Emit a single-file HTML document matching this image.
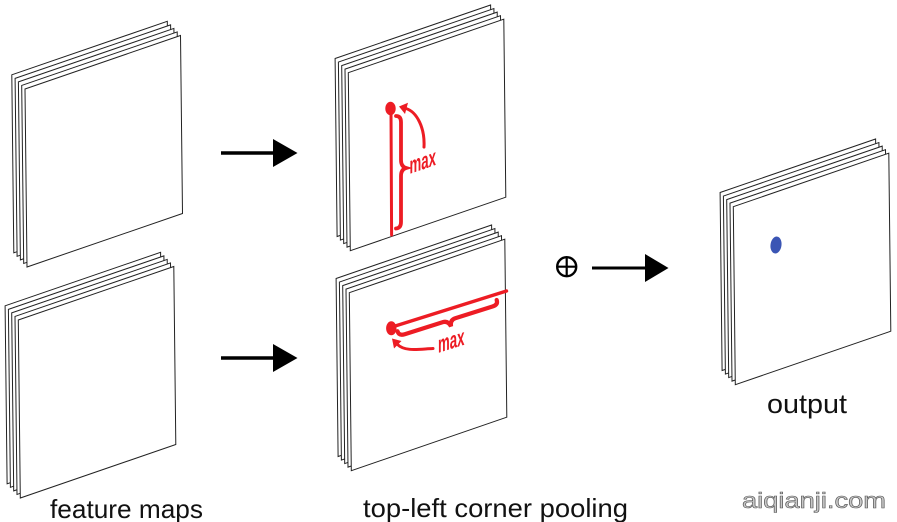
<!DOCTYPE html>
<html>
<head>
<meta charset="utf-8">
<style>
  html, body { margin: 0; padding: 0; background: #ffffff; }
  body { width: 897px; height: 522px; overflow: hidden; }
  svg { display: block; }
  .lbl { font-family: "Liberation Sans", "DejaVu Sans", sans-serif; fill: #111; }
  .mx { font-family: "Liberation Sans", "DejaVu Sans", sans-serif; fill: #ed1c24; font-size: 24px; font-weight: bold; }
</style>
</head>
<body>
<svg width="897" height="522" viewBox="0 0 897 522" xmlns="http://www.w3.org/2000/svg">
  <defs>
    <polygon id="sh" points="0,0 155.5,-53.5 157.5,124.5 2,178" fill="#ffffff" stroke="#222" stroke-width="1" stroke-linejoin="miter"/>
    <g id="stack">
      <use href="#sh" x="0" y="0"/>
      <use href="#sh" x="3.3" y="3.55"/>
      <use href="#sh" x="6.6" y="7.1"/>
      <use href="#sh" x="9.9" y="10.65"/>
      <use href="#sh" x="13.2" y="14.2"/>
    </g>
  </defs>

  <!-- stacks -->
  <use href="#stack" x="11.8" y="74.8"/>
  <use href="#stack" x="5.1" y="305.8"/>
  <use href="#stack" x="335.1" y="58.5"/>
  <use href="#stack" x="336.1" y="278.5"/>
  <use href="#stack" x="720.1" y="192.5"/>

  <!-- black arrows -->
  <line x1="221" y1="153" x2="275" y2="153" stroke="#000" stroke-width="3.5"/>
  <polygon points="273,139 297.5,153 273,167" fill="#000"/>
  <line x1="221" y1="358" x2="275" y2="358" stroke="#000" stroke-width="3.5"/>
  <polygon points="273,344 297.5,358 273,372" fill="#000"/>

  <!-- circled plus -->
  <circle cx="566.7" cy="266.7" r="9.5" fill="none" stroke="#000" stroke-width="2.4"/>
  <line x1="557.2" y1="266.7" x2="576.2" y2="266.7" stroke="#000" stroke-width="2.2"/>
  <line x1="566.7" y1="257.2" x2="566.7" y2="276.2" stroke="#000" stroke-width="2.2"/>

  <line x1="592" y1="268" x2="647" y2="268" stroke="#000" stroke-width="3"/>
  <polygon points="645,254 668.5,268 645,282" fill="#000"/>

  <!-- top-middle red annotation -->
  <g stroke="#ed1c24" fill="none" stroke-linecap="round">
    <line x1="391" y1="110" x2="391.6" y2="235" stroke-width="3"/>
    <path d="M396,116 Q401,116 401,122 L401,160 Q401,166.5 406,168 Q401,169.5 401,176 L401,222 Q401,228 396,228.5" stroke-width="3.8"/>
    <path d="M424,147 C425,128 417,112 406,108.5" stroke-width="3"/>
  </g>
  <ellipse cx="390.5" cy="108.5" rx="5.2" ry="6.8" fill="#ed1c24"/>
  <polygon points="399,106.5 408,102.8 405,114" fill="#ed1c24"/>
  <text class="mx" transform="translate(409.5,174) skewY(-19) scale(0.55,1)" x="0" y="0">max</text>

  <!-- bottom-middle red annotation -->
  <g stroke="#ed1c24" fill="none" stroke-linecap="round">
    <line x1="392" y1="327" x2="506.5" y2="291" stroke-width="3.4"/>
    <g transform="translate(399,336) rotate(-17.5)">
      <path d="M0,-5 Q0,0 6,0 L46,0 Q51.5,0 52.5,6.5 Q53.5,0 59,0 L98,0 Q104,0 104,-5" stroke-width="4.2"/>
    </g>
    <path d="M433,348.5 C420,349 405,352 397.5,344.5" stroke-width="3"/>
  </g>
  <ellipse cx="391.3" cy="328.3" rx="5.2" ry="7" fill="#ed1c24"/>
  <polygon points="392,338.5 401.5,341 394,348.5" fill="#ed1c24"/>
  <text class="mx" transform="translate(438,353) skewY(-17.5) scale(0.55,1)" x="0" y="0">max</text>

  <!-- blue dot -->
  <ellipse cx="776" cy="245" rx="5.5" ry="8.5" fill="#3a55b4" transform="rotate(8 776 245)"/>

  <!-- labels -->
  <text class="lbl" x="50" y="518" font-size="26" textLength="153" lengthAdjust="spacingAndGlyphs">feature maps</text>
  <text class="lbl" x="363" y="517" font-size="26" textLength="265" lengthAdjust="spacingAndGlyphs">top-left corner pooling</text>
  <text class="lbl" x="767" y="413" font-size="27" textLength="80" lengthAdjust="spacingAndGlyphs">output</text>
  <text x="742" y="508" font-size="22" textLength="144" lengthAdjust="spacingAndGlyphs" font-family="Liberation Sans, DejaVu Sans, sans-serif" fill="#c8c8c8" stroke="#555" stroke-width="0.6">aiqianji.com</text>
</svg>
</body>
</html>
